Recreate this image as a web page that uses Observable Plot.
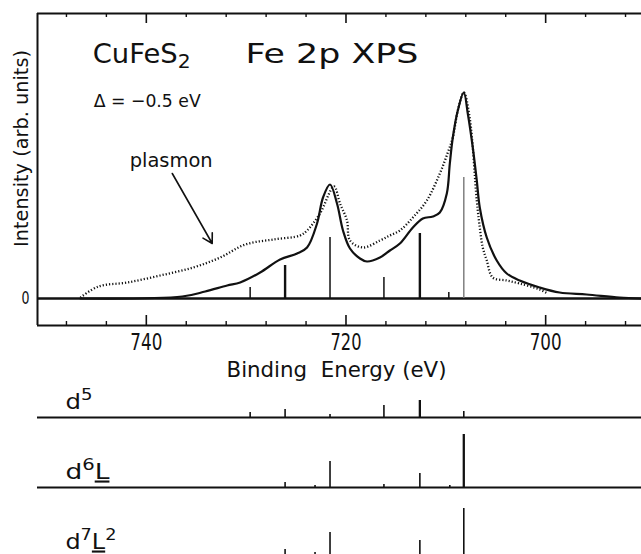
<!DOCTYPE html>
<html>
<head>
<meta charset="utf-8">
<script src="https://cdn.jsdelivr.net/npm/d3@7"></script>
<script src="https://cdn.jsdelivr.net/npm/@observablehq/plot@0.6"></script>
<style>
html, body { margin: 0; padding: 0; background: #fff; }
#chart { position: relative; width: 641px; height: 554px; overflow: hidden; background: #fff; }
#chart svg { position: absolute; left: 0; }
</style>
</head>
<body>
<div id="chart"></div>
<script>
// ---------- data (binding energy in eV, intensity in arb. units) ----------
const fitEnergy = [746.6, 736.4, 734.1, 731.9, 730.6, 728.6, 726.6, 724.9, 723.9, 722.9, 722.3, 721.6, 720.9, 720.3, 719.6, 718.6, 717.9, 716.6, 715.6, 714.6, 713.3, 712.3, 711.3, 710.6, 709.9, 709.6, 709.3, 708.8, 708.2, 707.8, 707.3, 706.9, 706.6, 705.9, 704.9, 703.9, 702.6, 700.6, 698.6, 695.9, 692.6, 690.5];
const fitIntensity = [0, 2, 7, 13, 16, 26, 39, 45, 51, 75, 101, 114, 95, 68, 50, 40, 37, 41, 48, 55, 71, 80, 82, 86, 105, 135, 161, 188, 206, 185, 151, 118, 91, 61, 38, 25, 18, 11, 6, 4, 1, 0];

const expEnergy = [746.6, 744.8, 741.9, 738.6, 735.3, 732.6, 730.1, 727.3, 724.6, 723.9, 722.6, 721.2, 720.6, 719.9, 719.6, 718.3, 716.6, 715.6, 714.6, 713.3, 711.9, 710.6, 709.8, 709.3, 708.8, 708.2, 707.6, 706.9, 706.6, 706.3, 705.9, 705.3, 703.9, 702.6, 700.6, 699.8];
const expIntensity = [1, 12, 16, 23, 31, 41, 54, 59, 63, 68, 85, 112, 95, 78, 58, 51, 58, 63, 68, 81, 98, 125, 146, 161, 188, 206, 180, 98, 71, 51, 38, 21, 18, 15, 9, 5];

const lineEnergy = [729.6, 726.1, 721.6, 716.2, 712.6, 709.7, 708.2];
const lineIntensity = [11, 33, 61, 21, 65, 6, 121];

const configNames = ["d5", "d6L", "d7L2"];
const d5Energy = [729.6, 726.1, 721.6, 716.2, 712.6, 708.2];
const d5Weight = [5, 8, 3, 12, 17, 6];
const d6LEnergy = [726.1, 723.1, 721.6, 716.2, 712.6, 709.6, 708.2];
const d6LWeight = [5, 2, 26, 3, 14, 2, 53];
const d7L2Energy = [726.1, 723.1, 721.6, 712.6, 708.2];
const d7L2Weight = [8, 5, 25, 17, 49];

const majorTicks = [740, 720, 700];
const minorTicks = [748, 744, 736, 732, 728, 724, 716, 712, 708, 704, 696, 692];

const titleText = "CuFeS2";
const spectrumText = "Fe 2p XPS";
const deltaText = "Δ = −0.5 eV";
const plasmonText = "plasmon";
const xLabel = "Binding  Energy (eV)";
const yLabel = "Intensity (arb. units)";

// ---------- layout / style ----------
const FONT = "'DejaVu Sans', sans-serif";
const X_DOMAIN = [750.9, 690.4];
const Y_DOMAIN = [-27, 285];
const thickLines = new Set([726.1, 712.6]);
const greyLine = 708.2;

const fit = fitEnergy.map((e, i) => ({e, v: fitIntensity[i]}));
const exp = expEnergy.map((e, i) => ({e, v: expIntensity[i]}));
const lines = lineEnergy.map((e, i) => ({e, v: lineIntensity[i]}));

const sticks = [];
[[d5Energy, d5Weight], [d6LEnergy, d6LWeight], [d7L2Energy, d7L2Weight]].forEach(([E, W], k) =>
  E.forEach((e, i) => sticks.push({config: configNames[k], e, v: W[i]})));
const thickSticks = new Set(["d5|712.6", "d6L|708.2"]);

const plotA = Plot.plot({
  width: 641, height: 392,
  marginLeft: 37, marginRight: 0, marginTop: 13, marginBottom: 67,
  style: {background: "transparent", fontFamily: FONT, color: "#111"},
  x: {domain: X_DOMAIN},
  y: {domain: Y_DOMAIN},
  marks: [
    // frame (top, bottom, left)
    Plot.ruleY([Y_DOMAIN[1], Y_DOMAIN[0]], {strokeWidth: 2}),
    Plot.ruleX([X_DOMAIN[0]], {strokeWidth: 2}),
    // ticks inward
    Plot.ruleX(majorTicks, {y1: Y_DOMAIN[0], y2: Y_DOMAIN[0] + 10, strokeWidth: 1.6}),
    Plot.ruleX(majorTicks, {y1: Y_DOMAIN[1], y2: Y_DOMAIN[1] - 10, strokeWidth: 1.6}),
    Plot.ruleX(minorTicks, {y1: Y_DOMAIN[0], y2: Y_DOMAIN[0] + 4, strokeWidth: 1.4}),
    Plot.ruleX(minorTicks, {y1: Y_DOMAIN[1], y2: Y_DOMAIN[1] - 4, strokeWidth: 1.4}),
    // zero line
    Plot.ruleY([0], {strokeWidth: 2.6}),
    // multiplet lines
    Plot.ruleX(lines.filter(d => d.e !== greyLine), {x: "e", y1: 0, y2: "v",
      strokeWidth: d => thickLines.has(d.e) ? 2.4 : 1.5}),
    Plot.ruleX(lines.filter(d => d.e === greyLine), {x: "e", y1: 0, y2: "v", stroke: "#808080", strokeWidth: 1.5}),
    // experiment (dotted)
    Plot.line(exp, {x: "e", y: "v", curve: "catmull-rom", strokeWidth: 2.3, strokeDasharray: "1.2 2", strokeLinecap: "butt"}),
    // calculation (solid)
    Plot.line(fit, {x: "e", y: "v", curve: "catmull-rom", strokeWidth: 2.2}),
    // plasmon arrow
    Plot.arrow([{x1: 737.4, y1: 125, x2: 733.4, y2: 55}], {x1: "x1", y1: "y1", x2: "x2", y2: "y2", strokeWidth: 1.6, headLength: 10}),
    // annotations
    Plot.text([{e: 745.37, v: 236, t: titleText}, {e: 730.07, v: 236, t: spectrumText}],
      {x: "e", y: "v", text: "t", textAnchor: "start", lineAnchor: "bottom", fontSize: 27}),
    Plot.text([{e: 745.27, v: 192, t: deltaText}],
      {x: "e", y: "v", text: "t", textAnchor: "start", lineAnchor: "bottom", fontSize: 18}),
    Plot.text([{e: 741.67, v: 132, t: plasmonText}],
      {x: "e", y: "v", text: "t", textAnchor: "start", lineAnchor: "bottom", fontSize: 19}),
    // axes
    Plot.axisX({ticks: majorTicks, anchor: "bottom", tickSize: 0, tickPadding: 8, fontSize: 23, label: null, tickFormat: d => String(d)}),
    Plot.axisY({ticks: [0], anchor: "left", tickSize: 0, tickPadding: 8, fontSize: 18, label: null, tickFormat: d => String(d)}),
    Plot.text([xLabel], {frameAnchor: "bottom", dx: -3, dy: 51, lineAnchor: "bottom", fontSize: 22}),
    Plot.text([yLabel], {frameAnchor: "left", y: 150, dx: -16, rotate: -90, textAnchor: "middle", lineAnchor: "middle", fontSize: 19})
  ]
});

const plotB = Plot.plot({
  width: 641, height: 210,
  marginLeft: 37, marginRight: 0, marginTop: 0, marginBottom: 0,
  facet: {marginTop: 0, marginBottom: 0, marginLeft: 0, marginRight: 0},
  style: {background: "transparent", fontFamily: FONT, color: "#111"},
  x: {domain: X_DOMAIN, axis: null},
  y: {domain: [0, 70], axis: null},
  fy: {domain: configNames, axis: null, padding: 0},
  marks: [
    Plot.ruleY(configNames, {fy: d => d, y: 0, strokeWidth: 2}),
    Plot.ruleX(sticks, {fy: "config", x: "e", y1: 0, y2: "v",
      strokeWidth: d => thickSticks.has(d.config + "|" + d.e) ? 2.3 : 1.6}),
    Plot.text(configNames, {fy: d => d, x: 748.1, y: 9, text: d => d, textAnchor: "start", lineAnchor: "bottom", fontSize: 21})
  ]
});

const chart = document.getElementById("chart");
plotA.style.top = "0px";
plotB.style.top = "347px";
chart.appendChild(plotB);
chart.appendChild(plotA);

// ---------- rich text (sub/superscripts, underline) and glyph widths ----------
const rich = {
  "CuFeS2": [{t: "CuFeS"}, {t: "2", sub: true}],
  "d5": [{t: "d"}, {t: "5", sup: true}],
  "d6L": [{t: "d"}, {t: "6", sup: true}, {t: "L", u: true}],
  "d7L2": [{t: "d"}, {t: "7", sup: true}, {t: "L", u: true}, {t: "2", sup: true}]
};
const widths = {
  "740": 32, "720": 31, "700": 32, "0": 8,
  "CuFeS2": 98, "Fe 2p XPS": 173, "Δ = −0.5 eV": 107, "plasmon": 83,
  "Binding  Energy (eV)": 220, "Intensity (arb. units)": 197,
  "d5": 27, "d6L": 44, "d7L2": 51
};
function buildRich(el, parts) {
  const fs = parseFloat(getComputedStyle(el).fontSize);
  const sel = d3.select(el);
  sel.text(null);
  let off = 0;
  for (const p of parts) {
    const target = p.sup ? -0.42 * fs : p.sub ? 0.2 * fs : 0;
    const ts = sel.append("tspan").text(p.t);
    if (target !== off) ts.attr("dy", target - off);
    off = target;
    if (p.sup || p.sub) ts.attr("font-size", (0.74 * fs) + "px");
    if (p.u) ts.style("text-decoration", "underline");
  }
}
for (const svg of [plotA, plotB]) {
  d3.select(svg).selectAll("text").each(function () {
    const key = this.textContent;
    if (rich[key]) buildRich(this, rich[key]);
    if (widths[key] != null) {
      this.setAttribute("textLength", widths[key]);
      this.setAttribute("lengthAdjust", "spacingAndGlyphs");
    }
  });
}
</script>
</body>
</html>
